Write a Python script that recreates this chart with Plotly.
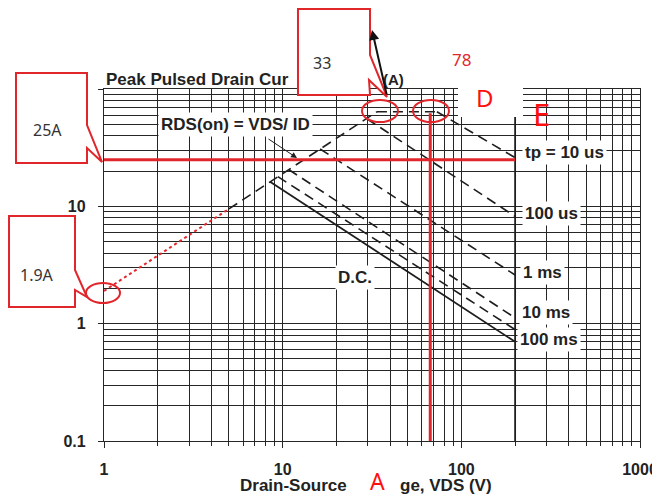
import plotly.graph_objects as go

# ---------------- data ----------------
x_ticks = [1, 10, 100, 1000]
x_tick_text = ["1", "10", "100", "1000"]
y_ticks = [0.1, 1, 10, 100]
y_tick_text = ["0.1", "1", "10", ""]
x_minor = [2, 3, 4, 5, 6, 7, 8, 9, 20, 30, 40, 50, 60, 70, 80, 90,
           200, 300, 400, 500, 600, 700, 800, 900]
y_minor = [0.2, 0.3, 0.4, 0.5, 0.6, 0.7, 0.8, 0.9, 2, 3, 4, 5, 6, 7, 8, 9,
           20, 30, 40, 50, 60, 70, 80, 90]

rds_ext_v = [1, 5]
rds_ext_i = [1.9, 9.5]
rds_v = [5, 33.7]
rds_i = [9.5, 64]
idm_v = [33.7, 73]
idm_i = [64, 64]
tp10us_v = [73, 200]
tp10us_i = [64, 26]
tp100us_v = [29.6, 200]
tp100us_i = [55.8, 8.2]
tp1ms_v = [16.2, 200]
tp1ms_i = [30.8, 2.6]
tp10ms_v = [10.8, 200]
tp10ms_i = [20.6, 1.12]
tp100ms_v = [9.4, 200]
tp100ms_i = [17.9, 0.89]
dc_v = [8.5, 200]
dc_i = [16.2, 0.70]
vmax_v = [200, 200]
vmax_i = [0.1, 64]
mark_25a_v = [1, 200]
mark_25a_i = [25, 25]
mark_78v_v = [67, 67]
mark_78v_i = [0.1, 62]

# ---------------- helpers for decoration placement ----------------
# the page body has an 8px margin, so the figure is sized/offset to compensate
OFF = 8
W, H = 660 - OFF, 496 - OFF
L, R, T, B = 104 - OFF, 20, 89 - OFF, 55
PL, PT = 104, 89              # plot-area corner in page pixels
PW, PH = W - L - R, H - T - B


def PX(x):
    return (x - PL) / PW


def PY(y):
    return (PT + PH - y) / PH


def path(points):
    s = "M {:.4f},{:.4f}".format(PX(points[0][0]), PY(points[0][1]))
    for p in points[1:]:
        s += " L {:.4f},{:.4f}".format(PX(p[0]), PY(p[1]))
    return s + " Z"


BLACK = "#1e1e1e"
RED = "#e0262b"
DASH = "10px,6px"

fig = go.Figure()


def line(v, i, color=BLACK, width=1.6, dash="solid"):
    fig.add_trace(go.Scatter(x=v, y=i, mode="lines", showlegend=False,
                             hoverinfo="skip",
                             line=dict(color=color, width=width, dash=dash)))


line(vmax_v, vmax_i, width=1.8)
line(rds_v, rds_i, dash=DASH)
line(idm_v, idm_i, dash=DASH)
line(tp10us_v, tp10us_i, dash=DASH)
line(tp100us_v, tp100us_i, dash=DASH)
line(tp1ms_v, tp1ms_i, dash=DASH)
line(tp10ms_v, tp10ms_i, dash=DASH)
line(tp100ms_v, tp100ms_i, dash=DASH)
line(dc_v, dc_i, width=1.8)
line(rds_ext_v, rds_ext_i, color=RED, width=2, dash="dot")
line(mark_25a_v, mark_25a_i, color=RED, width=3)
line(mark_78v_v, mark_78v_i, color=RED, width=3)

GRID = "#262626"
axis_common = dict(type="log", showgrid=True, gridcolor=GRID, gridwidth=1.2,
                   showline=True, linecolor=GRID, linewidth=1.3, mirror=True,
                   zeroline=False, automargin=False,
                   tickfont=dict(family="Liberation Sans", size=16, color="#222"))

fig.update_layout(
    width=W, height=H,
    margin=dict(l=L, r=R, t=T, b=B, autoexpand=False),
    paper_bgcolor="white", plot_bgcolor="white",
    font=dict(family="Liberation Sans", color="#222"),
    xaxis=dict(range=[0, 3], tickmode="array", tickvals=x_ticks,
               ticktext=["<b>%s</b>" % t for t in x_tick_text],
               ticks="outside", ticklen=6, tickcolor=GRID, ticklabelstandoff=8,
               minor=dict(tickmode="array", tickvals=x_minor, showgrid=True,
                          gridcolor=GRID, gridwidth=1.2, ticks="outside",
                          ticklen=4, tickcolor=GRID),
               **axis_common),
    yaxis=dict(range=[-1, 2], tickmode="array", tickvals=y_ticks,
               ticktext=["<b>%s</b>" % t if t else "" for t in y_tick_text],
               ticks="outside", ticklen=5, tickcolor=GRID, ticklabelstandoff=9,
               minor=dict(tickmode="array", tickvals=y_minor, showgrid=True,
                          gridcolor=GRID, gridwidth=1.2),
               **axis_common),
)

shapes = []
# white box behind "D"
shapes.append(dict(type="rect", xref="paper", yref="paper", layer="above",
                   x0=PX(458), x1=PX(523), y0=PY(117), y1=PY(87),
                   fillcolor="white", line=dict(width=0)))
# callout boxes
callouts = [
    [(16, 73), (87, 73), (87, 125), (102, 162), (87, 148), (87, 163), (16, 163)],
    [(9, 216), (75, 216), (75, 270), (87, 297), (75, 290), (75, 307), (9, 307)],
    [(298, 9), (370, 9), (370, 55), (387, 97), (369, 80), (370, 95), (298, 95)],
]
for pts in callouts:
    shapes.append(dict(type="path", xref="paper", yref="paper", layer="above",
                       path=path(pts), fillcolor="white",
                       line=dict(color=RED, width=2)))
# red ellipses
for cx, cy, rx, ry in [(380, 111, 18, 11), (431, 111, 18, 11), (103, 293, 17, 10)]:
    shapes.append(dict(type="circle", xref="paper", yref="paper", layer="above",
                       x0=PX(cx - rx), x1=PX(cx + rx), y0=PY(cy + ry), y1=PY(cy - ry),
                       line=dict(color=RED, width=2)))
fig.update_layout(shapes=shapes)

ann = []


def text(t, x, y, size=17, bold=True, color="#222", bg=None, xanchor="center",
         family="Liberation Sans"):
    d = dict(text=("<b>%s</b>" % t) if bold else t, xref="paper", yref="paper",
             x=PX(x), y=PY(y), showarrow=False, xanchor=xanchor, yanchor="middle",
             font=dict(family=family, size=size, color=color))
    if bg:
        d.update(bgcolor=bg, borderpad=2)
    ann.append(d)


# chart title (the rest is hidden by the callout box)
text("Peak Pulsed Drain Cur", 104, 79, xanchor="left")
text("(A)", 393, 80, size=15)
# x axis title (partly covered)
text("Drain-Source", 349, 485, xanchor="right")
text("ge, VDS (V)", 398, 485, xanchor="left")
# curve labels
text("tp = 10 us", 564, 152, bg="white")
text("100 us", 551, 213, bg="white")
text("1 ms", 542, 272, bg="white")
text("10 ms", 546, 312, bg="white")
text("100 ms", 549, 339, bg="white")
text("D.C.", 355, 277, bg="white")
text("RDS(on) = VDS/ ID", 235, 124, bg="white")
# callout texts
text("25A", 47, 130, size=16, bold=False, family="Noto Sans", color="#333")
text("1.9A", 37, 275, size=16, bold=False, family="Noto Sans", color="#333")
text("33", 322, 63, size=16, bold=False, family="Noto Sans", color="#333")
# red markers text
text("78", 461, 59, size=17, bold=False, family="Noto Sans", color=RED)
text("D", 485, 97, size=24, bold=False, family="Noto Sans", color="#ff1010")
text("E", 541, 114, size=31, bold=False, family="Noto Sans", color="#ff1010")
text("A", 377, 481, size=23, bold=False, family="Noto Sans", color="#ff1010")

# arrows
ann.append(dict(xref="paper", yref="paper", x=PX(297), y=PY(158), ax=-30, ay=-20,
                showarrow=True, arrowhead=2, arrowsize=1.2, arrowwidth=1,
                arrowcolor=BLACK, text=""))
ann.append(dict(xref="paper", yref="paper", x=PX(372), y=PY(30), ax=15, ay=66,
                showarrow=True, arrowhead=2, arrowsize=1, arrowwidth=2,
                arrowcolor="#111", text=""))
fig.update_layout(annotations=ann)

fig.write_html("out.html")
